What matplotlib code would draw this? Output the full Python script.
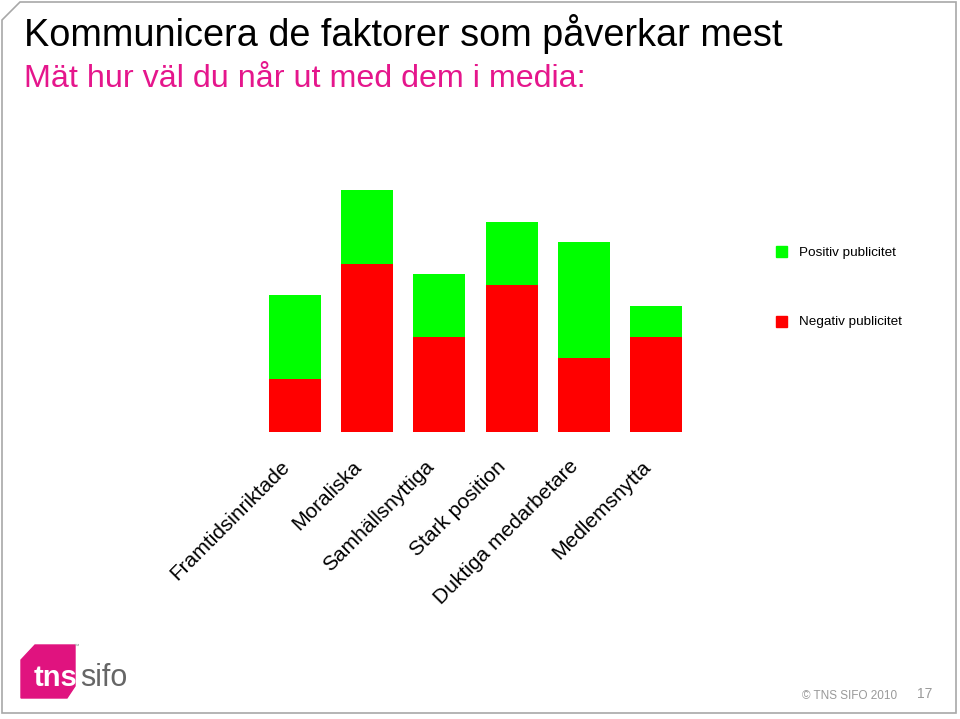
import matplotlib.pyplot as plt
import matplotlib.patches as mpatches
import matplotlib.transforms as mtransforms
import numpy as np

plt.rcParams['font.family'] = ['Liberation Sans', 'DejaVu Sans']

categories = ['Framtidsinriktade', 'Moraliska', 'Samhällsnyttiga',
              'Stark position', 'Duktiga medarbetare', 'Medlemsnytta']
negativ = [26.5, 84, 47.5, 73.5, 37, 47.5]
positiv = [42, 37, 31.5, 31.5, 58, 15.5]

W, H = 960, 719


def px(x, y):
    # pixel position (from top-left) -> figure fraction
    return (x / W, 1 - y / H)


fig = plt.figure(figsize=(9.6, 7.19), dpi=100)

# slide frame
frame = [px(2, 20), px(20, 2), px(956, 2), px(956, 713), px(2, 713)]
fig.patches.append(mpatches.Polygon(frame, closed=True, fill=False,
                                    edgecolor='#a8a8a8', linewidth=1.2,
                                    transform=fig.transFigure))

# titles
fig.text(*px(24, 46), 'Kommunicera de faktorer som påverkar mest',
         fontsize=27.3, color='black', va='baseline')
fig.text(*px(24, 87), 'Mät hur väl du når ut med dem i media:',
         fontsize=23.2, color='#e5168c', va='baseline')

# chart
ax = fig.add_axes([258.9 / W, 1 - 432 / H, 433.2 / W, 242 / H])
x = np.arange(len(categories))
ax.bar(x, negativ, width=0.72, color='#ff0000', label='Negativ publicitet')
ax.bar(x, positiv, width=0.72, bottom=negativ, color='#00ff00',
       label='Positiv publicitet')
ax.set_xlim(-0.5, len(categories) - 0.5)
ax.set_ylim(0, 121)
ax.set_yticks([])
ax.set_xticks(x)
ax.set_xticklabels(categories, rotation=45, ha='right',
                   rotation_mode='anchor', fontsize=15)
ax.tick_params(axis='x', length=0, pad=18)
shift = mtransforms.ScaledTranslation(-15 / 100, 0, fig.dpi_scale_trans)
for lab in ax.get_xticklabels():
    lab.set_transform(lab.get_transform() + shift)
for s in ax.spines.values():
    s.set_visible(False)

# legend (drawn by hand to match the slide)
fig.patches.append(mpatches.Rectangle(px(776, 257), 11 / W, 11 / H,
                                      color='#00ff00', transform=fig.transFigure))
fig.text(*px(799, 253), 'Positiv publicitet', fontsize=9.7, va='center')
fig.patches.append(mpatches.Rectangle(px(776, 327), 11 / W, 11 / H,
                                      color='#ff0000', transform=fig.transFigure))
fig.text(*px(799, 322), 'Negativ publicitet', fontsize=9.7, va='center')

# logo
logo = [px(21, 660), px(35, 645), px(75, 645), px(75, 686), px(67, 698), px(21, 698)]
fig.patches.append(mpatches.Polygon(logo, closed=True, color='#e0137f',
                                    transform=fig.transFigure))
fig.text(*px(34, 686), 'tns', fontsize=21, color='white', va='baseline',
         fontweight='bold')
fig.text(*px(80, 686), 'sifo', fontsize=22, color='#666666', va='baseline')
fig.text(*px(74, 646), '™', fontsize=4, color='#888888', va='center')

# footer
fig.text(*px(802, 696), '© TNS SIFO 2010', fontsize=8.5, color='#999999', va='center')
fig.text(*px(917, 694), '17', fontsize=10, color='#999999', va='center')

fig.savefig('out.png', dpi=100)
